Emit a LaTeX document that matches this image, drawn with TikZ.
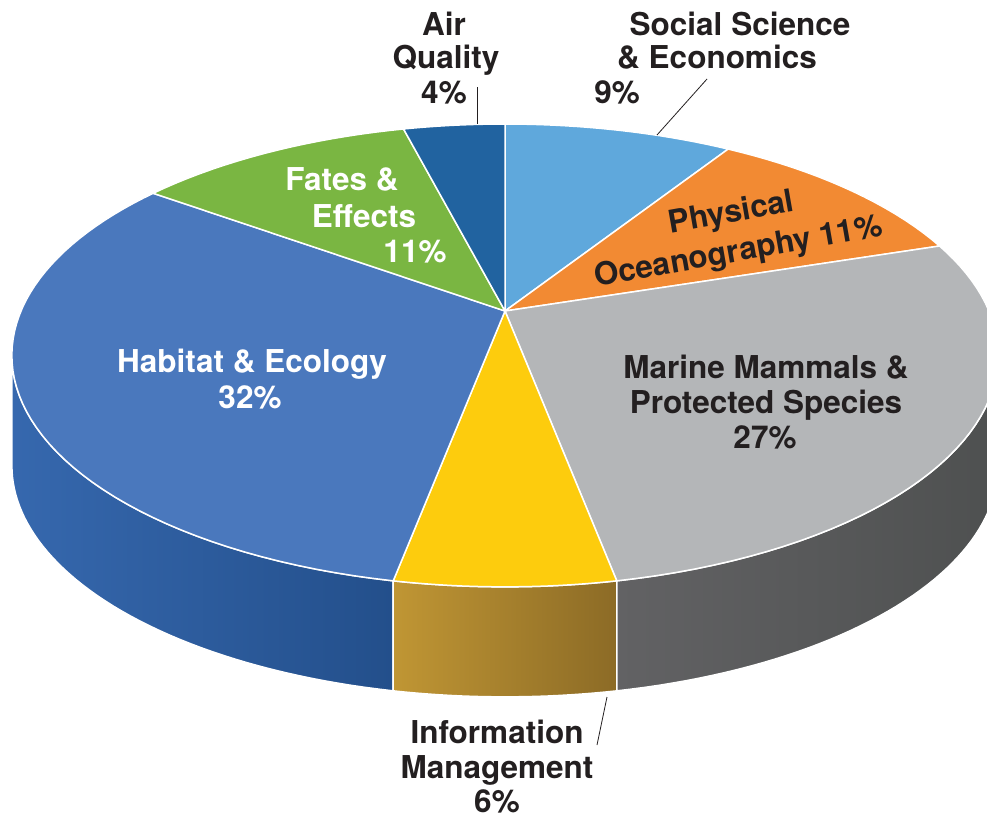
\documentclass[tikz,border=0pt]{standalone}
\usepackage{fontspec}
\setmainfont{TeX Gyre Heros}
\usepackage{tikz}
\usetikzlibrary{calc}

\definecolor{ink}{HTML}{231F20}
\definecolor{socsci}{HTML}{5FA8DC}
\definecolor{physoc}{HTML}{F28A33}
\definecolor{marine}{HTML}{B4B6B8}
\definecolor{infomg}{HTML}{FDCC0D}
\definecolor{habitat}{HTML}{4A78BD}
\definecolor{fates}{HTML}{7AB642}
\definecolor{airq}{HTML}{2163A0}

\tikzset{
  declare function={px(\t)=505+484*cos(\t)/(1+0.192*sin(\t));
                    py(\t)=311-222.9*sin(\t)/(1+0.192*sin(\t));},
  slice/.style={draw=white, line width=1.5pt, line join=round},
  lbl/.style={font=\bfseries\fontsize{31.5}{34}\selectfont, text=ink, inner sep=0pt, anchor=base},
  wlbl/.style={lbl, text=white},
  leader/.style={draw=ink, line width=0.8pt}
}

\begin{document}
\begin{tikzpicture}[x=1pt,y=-1pt]
\clip (0,0) rectangle (987,817);
% side of the pie, 110 deep
\draw[slice, left color={rgb,255:red,54;green,104;blue,174}, right color={rgb,255:red,35;green,79;blue,139}]
  plot[domain=-168.93:-100.8, samples=50] ({px(\x)},{py(\x)}) -- plot[domain=-100.8:-168.93, samples=50] ({px(\x)},{py(\x)+110}) -- cycle;
\draw[slice, left color={rgb,255:red,192;green,150;blue,52}, right color={rgb,255:red,140;green,107;blue,38}]
  plot[domain=-100.8:-79.2, samples=20] ({px(\x)},{py(\x)}) -- plot[domain=-79.2:-100.8, samples=20] ({px(\x)},{py(\x)+110}) -- cycle;
\draw[slice, left color={rgb,255:red,98;green,98;blue,100}, right color={rgb,255:red,78;green,80;blue,80}]
  plot[domain=-79.2:-11.07, samples=50] ({px(\x)},{py(\x)}) -- plot[domain=-11.07:-79.2, samples=50] ({px(\x)},{py(\x)+110}) -- cycle;
% top face, clockwise from 12 o'clock
\coordinate (apex) at (505,311);
\draw[slice, fill=socsci] (apex) -- plot[domain=57.6:90, samples=20] ({px(\x)},{py(\x)}) -- cycle;
\draw[slice, fill=physoc] (apex) -- plot[domain=18:57.6, samples=20] ({px(\x)},{py(\x)}) -- cycle;
\draw[slice, fill=marine] (apex) -- plot[domain=-79.2:18, samples=50] ({px(\x)},{py(\x)}) -- cycle;
\draw[slice, fill=infomg] (apex) -- plot[domain=-100.8:-79.2, samples=20] ({px(\x)},{py(\x)}) -- cycle;
\draw[slice, fill=habitat] (apex) -- plot[domain=144:259.2, samples=60] ({px(\x)},{py(\x)}) -- cycle;
\draw[slice, fill=fates] (apex) -- plot[domain=104.4:144, samples=20] ({px(\x)},{py(\x)}) -- cycle;
\draw[slice, fill=airq] (apex) -- plot[domain=90:104.4, samples=10] ({px(\x)},{py(\x)}) -- cycle;

% labels on the pie
\node[wlbl] (fates1) at (342,190) {Fates \&};
\node[wlbl] (fates2) at (364,227) {Effects};
\node[wlbl] (fates3) at (415,262) {11\%};
\node[wlbl] (hab1) at (252,372) {Habitat \& Ecology};
\node[wlbl] (hab2) at (250,408) {32\%};
\node[lbl, anchor=center, align=center, rotate=10, font=\bfseries\fontsize{31.5}{39.5}\selectfont] (phys) at (735,233.5) {Physical\\Oceanography 11\%};
\node[lbl] (mar1) at (766,378) {Marine Mammals \&};
\node[lbl] (mar2) at (766,413) {Protected Species};
\node[lbl] (mar3) at (765,448) {27\%};

% labels outside
\node[lbl] (air1) at (444,35) {Air};
\node[lbl] (air2) at (446,68) {Quality};
\node[lbl] (air3) at (444,103) {4\%};
\node[lbl] (soc1) at (740,35) {Social Science};
\node[lbl] (soc2) at (717,68) {\& Economics};
\node[lbl] (soc3) at (617,103) {9\%};
\node[lbl] (info1) at (497,743) {Information};
\node[lbl] (info2) at (497,778) {Management};
\node[lbl] (info3) at (497,812) {6\%};

% leaders
\coordinate (airA) at (477,87);   \coordinate (airB) at (477,124);
\coordinate (socA) at (707,79);   \coordinate (socB) at (657,135);
\coordinate (infoA) at (607,697); \coordinate (infoB) at (597,745);
\draw[leader] (airA) -- (airB);
\draw[leader] (socA) -- (socB);
\draw[leader] (infoA) -- (infoB);
\end{tikzpicture}
\end{document}
